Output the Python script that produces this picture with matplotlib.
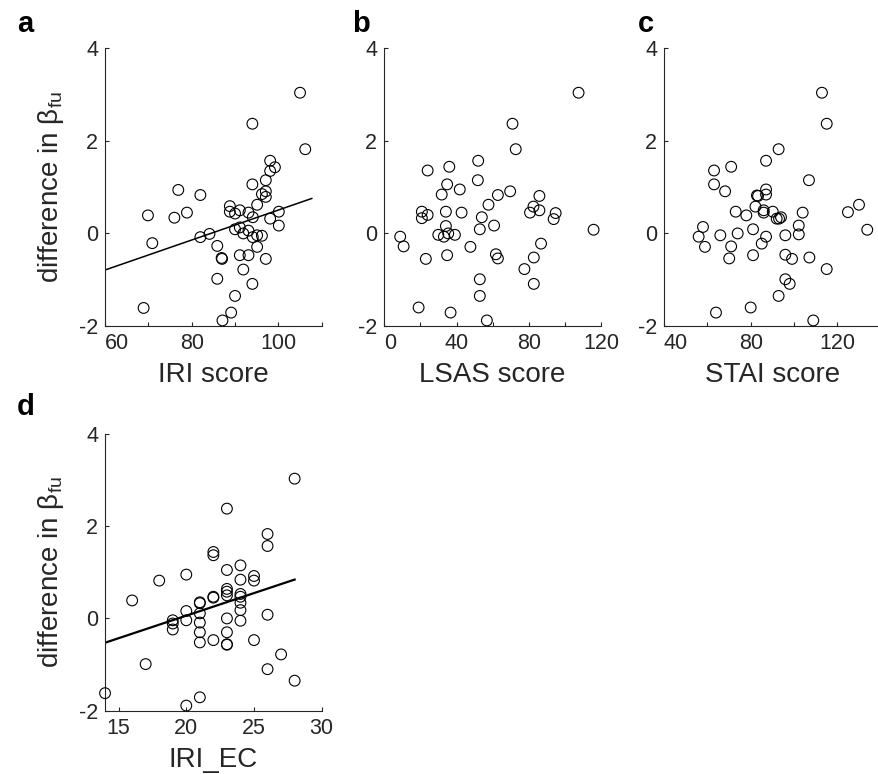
import numpy as np
import matplotlib
matplotlib.use("Agg")
import matplotlib.pyplot as plt

plt.rcParams['font.family'] = ['Liberation Sans', 'DejaVu Sans']
plt.rcParams['mathtext.fontset'] = 'custom'
plt.rcParams['mathtext.rm'] = 'Liberation Sans'
plt.rcParams['mathtext.it'] = 'Liberation Sans'
plt.rcParams['axes.unicode_minus'] = False

# values
iri_score = [105, 94, 106.2, 98.1, 99.2, 98.1, 97.1, 94, 76.9, 97.1, 96.2, 97.1, 82, 95.1,
             88.8, 88.8, 91.1, 90, 78.9, 76, 69.9, 93.1, 100.1, 94.1, 98.1, 100.1, 91.1, 90,
             93.1, 91.9, 94.1, 95.1, 96.2, 84.1, 82, 70.9, 85.9, 95.1, 91.1, 93.1, 86.9, 87.0,
             97.1, 91.9, 85.9, 94, 90, 68.9, 89.1, 87.1]
diff_a = [3.04, 2.37, 1.82, 1.57, 1.43, 1.35, 1.15, 1.06, 0.94, 0.91, 0.85, 0.79, 0.83, 0.62,
          0.59, 0.47, 0.50, 0.43, 0.45, 0.34, 0.39, 0.45, 0.47, 0.35, 0.32, 0.17, 0.13, 0.09,
          0.06, 0.0, -0.08, -0.04, -0.05, -0.01, -0.08, -0.21, -0.27, -0.29, -0.47, -0.47,
          -0.53, -0.55, -0.55, -0.78, -0.98, -1.09, -1.35, -1.61, -1.71, -1.88]

lsas_score = [107.6, 71, 72.8, 52, 24, 36, 51.8, 34.8, 41.8, 69.7, 31.8, 62.9, 85.9, 57.7,
              82.6, 20.8, 34.1, 42.8, 80.7, 85.9, 94.9, 24, 20.8, 54, 93.8, 60.8, 34.1, 52.9,
              115.9, 8.8, 29.9, 33, 35.4, 39.1, 10.7, 47.7, 86.8, 34.8, 61.8, 62.9, 23, 82.8,
              77.6, 52.9, 82.8, 52.9, 19, 36.7, 56.8]
diff_b = [3.04, 2.37, 1.82, 1.57, 1.36, 1.44, 1.15, 1.06, 0.95, 0.91, 0.84, 0.83, 0.81, 0.62,
          0.58, 0.47, 0.47, 0.45, 0.45, 0.50, 0.44, 0.40, 0.33, 0.35, 0.31, 0.17, 0.16, 0.09,
          0.08, -0.07, -0.03, -0.07, 0.0, -0.03, -0.28, -0.29, -0.22, -0.47, -0.45, -0.54,
          -0.55, -0.52, -0.77, -0.99, -1.09, -1.35, -1.6, -1.71, -1.88]

stai_score = [112.9, 115.1, 92.9, 87.1, 63.1, 71, 106.9, 63.1, 87.1, 68.2, 82.9, 87.1, 82.2,
              73.1, 78, 86, 86, 90.2, 92, 94, 93.1, 104, 124.9, 130, 102.2, 58, 81.1, 133.8,
              56, 66, 74, 102.2, 96, 87.1, 58.9, 71, 85.1, 70.1, 81.1, 96, 99.1, 107.1, 115.1,
              96, 98, 92.9, 80, 64, 108.9, 83.4]
diff_c = [3.04, 2.37, 1.82, 1.57, 1.36, 1.44, 1.15, 1.06, 0.95, 0.91, 0.82, 0.84, 0.58, 0.47,
          0.39, 0.50, 0.45, 0.47, 0.32, 0.35, 0.32, 0.45, 0.46, 0.62, 0.17, 0.14, 0.09, 0.08,
          -0.07, -0.04, 0.0, -0.02, -0.04, -0.07, -0.29, -0.28, -0.22, -0.54, -0.47, -0.46,
          -0.55, -0.52, -0.77, -0.99, -1.09, -1.35, -1.6, -1.71, -1.88, 0.81]

iri_ec = [28, 23, 26, 26, 22, 22, 24, 23, 20, 25, 25, 24, 18, 23, 23, 23, 22, 22, 24, 24, 24,
          24, 21, 21, 16, 20, 21, 19, 19, 19, 20, 26, 23, 24, 21, 21, 23, 21, 22, 23, 23, 25,
          27, 17, 26, 28, 14, 21, 20]
diff_d = [3.03, 2.38, 1.83, 1.57, 1.44, 1.37, 1.15, 1.05, 0.95, 0.92, 0.82, 0.84, 0.82, 0.64,
          0.58, 0.50, 0.47, 0.45, 0.53, 0.47, 0.34, 0.18, 0.35, 0.33, 0.39, 0.16, 0.11, -0.04,
          -0.11, -0.24, -0.04, 0.08, 0.0, -0.05, -0.09, -0.30, -0.30, -0.52, -0.47, -0.56,
          -0.57, -0.47, -0.78, -0.99, -1.10, -1.35, -1.62, -1.71, -1.89]

# least squares lines as drawn (slope, intercept, x from, x to)
fit_a = [0.0324, -2.734, 60, 107.7]
fit_d = [0.0978, -1.896, 14, 28]

col = '#262626'
ylab = r'difference in $\mathregular{\beta_{fu}}$'

fig = plt.figure(figsize=(8.79, 7.74), dpi=100)

W = 0.2465
H = 0.3588
ax_a = fig.add_axes([0.1195, 0.5788, W, H])
ax_b = fig.add_axes([0.4372, 0.5788, W, H])
ax_c = fig.add_axes([0.7554, 0.5788, W, H])
ax_d = fig.add_axes([0.1195, 0.0818, W, 0.3576])

panels = [
    (ax_a, iri_score, diff_a, (60, 110), np.arange(60, 111, 10), [60, 80, 100], 'IRI score', 'a'),
    (ax_b, lsas_score, diff_b, (0, 120), np.arange(0, 121, 20), [0, 40, 80, 120], 'LSAS score', 'b'),
    (ax_c, stai_score, diff_c, (40, 140), np.arange(40, 141, 20), [40, 80, 120], 'STAI score', 'c'),
    (ax_d, iri_ec, diff_d, (14, 30), [15, 20, 25, 30], [15, 20, 25, 30], 'IRI_EC', 'd'),
]

for ax, xs, ys, xl, ticks, labeled, xlabel, letter in panels:
    ax.scatter(xs, ys, s=60, facecolors='none', edgecolors='k', linewidths=0.8,
               clip_on=False, zorder=3)
    ax.set_xlim(xl)
    ax.set_ylim(-2, 4)
    ax.set_yticks([-2, 0, 2, 4])
    ax.set_xticks(ticks)
    ax.set_xticklabels([str(t) if t in labeled else '' for t in ticks])
    for s in ['top', 'right']:
        ax.spines[s].set_visible(False)
    for s in ['left', 'bottom']:
        ax.spines[s].set_color(col)
        ax.spines[s].set_linewidth(0.8)
    ax.tick_params(direction='in', length=3, width=0.8, color=col, labelcolor=col,
                   labelsize=15.5, pad=5)
    ax.set_xlabel(xlabel, fontsize=20, color=col, labelpad=6)
    if letter in ('a', 'd'):
        ax.set_ylabel(ylab, fontsize=20, color=col, labelpad=9)
    ax.patch.set_visible(False)

# first x label sits just right of the corner
for ax in (ax_a, ax_b, ax_c):
    lab = ax.get_xticklabels()[0]
    lab.set_horizontalalignment('left')

for ax, fit in ((ax_a, fit_a), (ax_d, fit_d)):
    fx = np.array(fit[2:])
    ax.plot(fx, fit[0] * fx + fit[1], color='k', lw=1.1 if ax is ax_a else 1.6, zorder=2)

fig.text(0.019, 0.959, 'a', fontsize=21, fontweight='bold', va='baseline')
fig.text(0.401, 0.959, 'b', fontsize=21, fontweight='bold', va='baseline')
fig.text(0.726, 0.959, 'c', fontsize=21, fontweight='bold', va='baseline')
fig.text(0.019, 0.464, 'd', fontsize=21, fontweight='bold', va='baseline')

fig.savefig('out.png', dpi=100)
